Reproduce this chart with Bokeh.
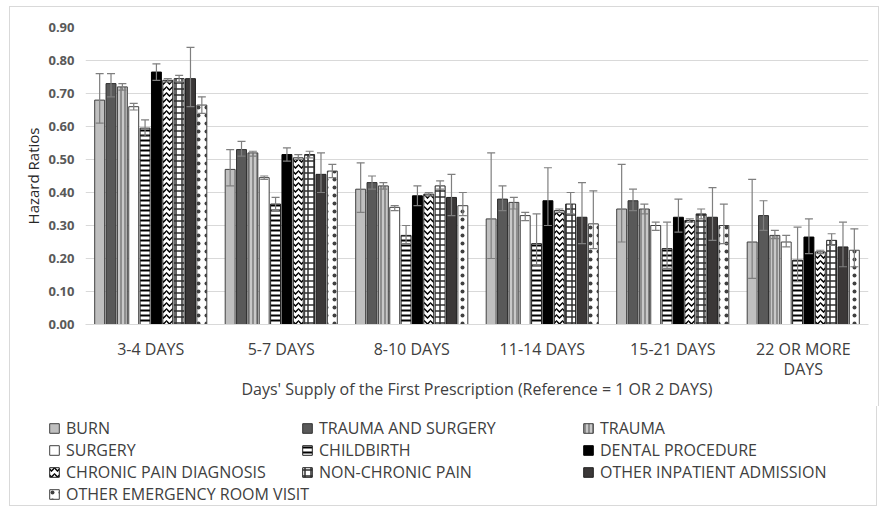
from bokeh.plotting import figure
from bokeh.models import (ColumnDataSource, Range1d, FactorRange, FixedTicker, NumeralTickFormatter,
                          Whisker, TeeHead, Legend, LegendItem)
from bokeh.transform import dodge
from bokeh.embed import file_html
from bokeh.resources import INLINE

# ---------------- data ----------------
cats = ["3-4 DAYS", "5-7 DAYS", "8-10 DAYS", "11-14 DAYS", "15-21 DAYS", "22 OR MORE\nDAYS"]
y_ticks = [0.0, 0.1, 0.2, 0.3, 0.4, 0.5, 0.6, 0.7, 0.8, 0.9]

series_names = ["BURN", "TRAUMA AND SURGERY", "TRAUMA", "SURGERY", "CHILDBIRTH",
                "DENTAL PROCEDURE", "CHRONIC PAIN DIAGNOSIS", "NON-CHRONIC PAIN",
                "OTHER INPATIENT ADMISSION", "OTHER EMERGENCY ROOM VISIT"]

burn = [0.68, 0.47, 0.41, 0.32, 0.35, 0.25]
burn_hi = [0.76, 0.53, 0.49, 0.52, 0.485, 0.44]
burn_lo = [0.61, 0.42, 0.34, 0.20, 0.25, 0.14]

ts = [0.73, 0.53, 0.43, 0.38, 0.375, 0.33]
ts_hi = [0.76, 0.555, 0.45, 0.42, 0.41, 0.375]
ts_lo = [0.69, 0.51, 0.41, 0.345, 0.345, 0.285]

trauma = [0.72, 0.52, 0.42, 0.37, 0.35, 0.27]
trauma_hi = [0.73, 0.525, 0.43, 0.385, 0.365, 0.285]
trauma_lo = [0.71, 0.51, 0.41, 0.35, 0.335, 0.26]

surgery = [0.66, 0.445, 0.355, 0.33, 0.30, 0.25]
surgery_hi = [0.67, 0.45, 0.36, 0.34, 0.31, 0.27]
surgery_lo = [0.65, 0.44, 0.345, 0.315, 0.285, 0.235]

childbirth = [0.595, 0.365, 0.27, 0.245, 0.23, 0.195]
childbirth_hi = [0.62, 0.385, 0.30, 0.335, 0.31, 0.295]
childbirth_lo = [0.57, 0.345, 0.245, 0.18, 0.17, 0.13]

dental = [0.765, 0.515, 0.39, 0.375, 0.325, 0.265]
dental_hi = [0.79, 0.535, 0.42, 0.475, 0.38, 0.32]
dental_lo = [0.74, 0.495, 0.36, 0.30, 0.28, 0.215]

chronic = [0.74, 0.505, 0.395, 0.345, 0.315, 0.22]
chronic_hi = [0.745, 0.515, 0.40, 0.35, 0.32, 0.225]
chronic_lo = [0.735, 0.50, 0.39, 0.34, 0.31, 0.215]

nonchronic = [0.745, 0.515, 0.42, 0.365, 0.335, 0.255]
nonchronic_hi = [0.755, 0.525, 0.435, 0.40, 0.35, 0.275]
nonchronic_lo = [0.735, 0.505, 0.41, 0.335, 0.32, 0.24]

inpatient = [0.745, 0.455, 0.385, 0.325, 0.325, 0.235]
inpatient_hi = [0.84, 0.52, 0.455, 0.43, 0.415, 0.31]
inpatient_lo = [0.66, 0.40, 0.33, 0.245, 0.255, 0.175]

er = [0.665, 0.465, 0.36, 0.305, 0.30, 0.225]
er_hi = [0.69, 0.485, 0.40, 0.405, 0.365, 0.29]
er_lo = [0.64, 0.445, 0.33, 0.23, 0.245, 0.175]

values = [burn, ts, trauma, surgery, childbirth, dental, chronic, nonchronic, inpatient, er]
highs = [burn_hi, ts_hi, trauma_hi, surgery_hi, childbirth_hi, dental_hi, chronic_hi,
         nonchronic_hi, inpatient_hi, er_hi]
lows = [burn_lo, ts_lo, trauma_lo, surgery_lo, childbirth_lo, dental_lo, chronic_lo,
        nonchronic_lo, inpatient_lo, er_lo]

# ---------------- styles ----------------
FONT = "Open Sans"
TXT = "#404040"
BORDER = "1px solid #d9d9d9"
styles = [
    dict(fill_color="#bfbfbf", line_color="#404040"),
    dict(fill_color="#595959", line_color="#303030"),
    dict(fill_color="#c8c8c8", line_color="#404040", hatch_pattern="vertical_line",
         hatch_color="#7a7a7a", hatch_scale=4, hatch_weight=1.5),
    dict(fill_color="white", line_color="#404040"),
    dict(fill_color="white", line_color="#202020", hatch_pattern="horizontal_line",
         hatch_color="black", hatch_scale=5, hatch_weight=2),
    dict(fill_color="black", line_color="black"),
    dict(fill_color="white", line_color="#202020", hatch_pattern="horizontal_wave",
         hatch_color="black", hatch_scale=6, hatch_weight=1.5),
    dict(fill_color="white", line_color="#202020", hatch_pattern="cross",
         hatch_color="#303030", hatch_scale=6, hatch_weight=1.5),
    dict(fill_color="#3b3838", line_color="#202020"),
    dict(fill_color="white", line_color="#404040", hatch_pattern="dot",
         hatch_color="#404040", hatch_scale=8, hatch_weight=1),
]

slot = 0.087
bar_w = 0.076

# ---------------- main chart ----------------
p = figure(x_range=FactorRange(*cats), y_range=Range1d(0, 0.9), frame_width=783, frame_height=297,
           min_border_left=75, min_border_right=10, min_border_top=20, min_border_bottom=82,
           output_backend="svg", toolbar_location=None)
p.styles = {"margin-left": "9px", "margin-top": "6px", "border-left": BORDER,
            "border-right": BORDER, "border-top": BORDER}
p.outline_line_color = None
p.xgrid.grid_line_color = None
p.ygrid.grid_line_color = "#d9d9d9"
p.ygrid.ticker = FixedTicker(ticks=y_ticks)

p.yaxis.ticker = FixedTicker(ticks=y_ticks)
p.yaxis.formatter = NumeralTickFormatter(format="0.00")
p.yaxis.axis_line_color = None
p.yaxis.major_tick_line_color = None
p.yaxis.minor_tick_line_color = None
p.yaxis.major_tick_out = 0
p.yaxis.minor_tick_out = 0
p.yaxis.major_label_standoff = 11
p.yaxis.major_label_text_font = FONT
p.yaxis.major_label_text_font_size = "13px"
p.yaxis.major_label_text_font_style = "bold"
p.yaxis.major_label_text_color = "#595959"
p.yaxis.axis_label = "Hazard Ratios"
p.yaxis.axis_label_text_font = FONT
p.yaxis.axis_label_text_font_size = "15px"
p.yaxis.axis_label_text_font_style = "normal"
p.yaxis.axis_label_text_color = "#262626"
p.yaxis.axis_label_standoff = 2

p.xaxis.axis_line_color = "#d9d9d9"
p.xaxis.major_tick_line_color = None
p.xaxis.minor_tick_line_color = None
p.xaxis.major_tick_out = 0
p.xaxis.major_label_standoff = 13
p.xaxis.major_label_text_font = FONT
p.xaxis.major_label_text_font_size = "16px"
p.xaxis.major_label_text_line_height = 0.95
p.xaxis.major_label_text_color = TXT
p.xaxis.axis_label = "Days' Supply of the First Prescription (Reference = 1 OR 2 DAYS)"
p.xaxis.axis_label_text_font = FONT
p.xaxis.axis_label_text_font_size = "16px"
p.xaxis.axis_label_text_font_style = "normal"
p.xaxis.axis_label_text_color = TXT
p.xaxis.axis_label_standoff = -5

# ---------------- legend strip (separate root, no axes) ----------------
lf = figure(width=868, height=100, x_range=FactorRange(*cats), y_range=Range1d(1, 2),
            x_axis_type=None, y_axis_type=None, min_border=0,
            output_backend="svg", toolbar_location=None)
lf.styles = {"margin-left": "9px", "border-left": BORDER, "border-right": BORDER,
             "border-bottom": BORDER}
lf.outline_line_color = None
lf.grid.visible = False
for fig in (p, lf):
    try:
        fig.frame_align = False
    except Exception:
        pass

legend_renderers = []
for i, (name, v, hi, lo) in enumerate(zip(series_names, values, highs, lows)):
    src = ColumnDataSource(dict(cat=cats, value=v, upper=hi, lower=lo))
    off = (i - 4.5) * slot
    p.vbar(x=dodge("cat", off, range=p.x_range), top="value", width=bar_w, source=src,
           line_width=1, **styles[i])
    w = Whisker(base=dodge("cat", off, range=p.x_range), upper="upper", lower="lower",
                source=src, line_color="#7f7f7f", line_width=1.2, level="overlay",
                upper_head=TeeHead(size=8, line_color="#7f7f7f", line_width=1.2),
                lower_head=TeeHead(size=8, line_color="#7f7f7f", line_width=1.2))
    p.add_layout(w)
    # same series in the legend strip; its y-range keeps these bars out of view
    r = lf.vbar(x=dodge("cat", off, range=lf.x_range), top="value", width=bar_w, source=src,
                line_width=1, **styles[i])
    legend_renderers.append(r)

item_h = 21.8
top_gap = 12
cols = [[0, 3, 6, 9], [1, 4, 7], [2, 5, 8]]
xs = [38, 291, 572]
for idx, c in enumerate(cols):
    h = len(c) * item_h
    leg = Legend(items=[LegendItem(label=series_names[k], renderers=[legend_renderers[k]]) for k in c],
                 location=(xs[idx], 100 - top_gap - h),
                 orientation="vertical", glyph_width=12, glyph_height=12,
                 label_standoff=6, spacing=0, padding=0, margin=0,
                 label_text_font=FONT, label_text_font_size="16px",
                 label_text_color=TXT, label_height=17,
                 border_line_color=None, background_fill_alpha=0)
    lf.add_layout(leg, "center")

open("out.html", "w").write(file_html([p, lf], INLINE))
